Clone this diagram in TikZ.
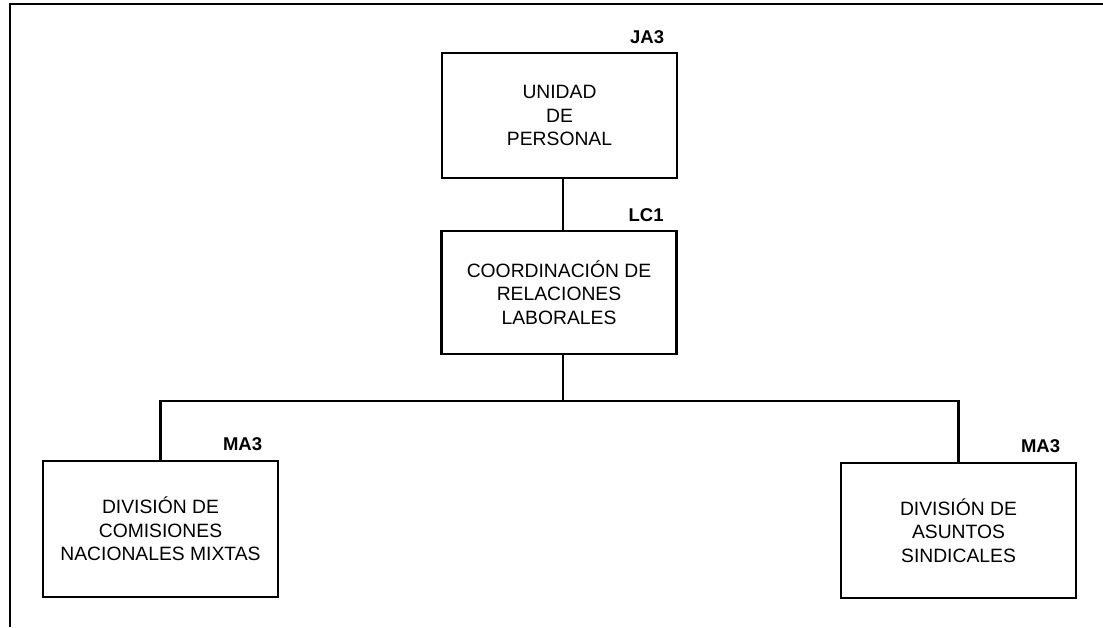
\documentclass[tikz,border=0pt]{standalone}
\usepackage{fontspec}
\setmainfont{Liberation Sans}
\usetikzlibrary{calc}
\tikzset{
  unitbox/.style={draw=black, line width=2.6pt, fill=white, inner sep=0pt,
    minimum width=235pt, align=center,
    font=\fontsize{19.3}{23.5}\selectfont},
  lab/.style={anchor=base east, inner sep=0pt,
    font=\fontsize{18.5}{22}\selectfont\bfseries},
  conn/.style={draw=black, line width=2.6pt},
  frame/.style={draw=black, line width=2.6pt}
}
\begin{document}
\begin{tikzpicture}[x=1pt,y=-1pt]
\useasboundingbox (0,0) rectangle (1103,627);
\draw[frame] (1103,4) -- (10,4) -- (10,627);
\node[unitbox, minimum height=125pt] (u) at (559.5,115.5) {UNIDAD\\DE\\PERSONAL};
\node[unitbox, minimum height=123pt] (c) at (559,292.5) {COORDINACIÓN DE\\RELACIONES\\LABORALES};
\node[unitbox, minimum height=136pt] (l) at (160.5,529) {DIVISIÓN DE\\COMISIONES\\NACIONALES MIXTAS};
\node[unitbox, minimum height=135pt] (r) at (958.5,530.5) {DIVISIÓN DE\\ASUNTOS\\SINDICALES};
\node[lab] (lu) at ($(u.north east)+(-14,-8)$) {JA3};
\node[lab] (lc) at ($(c.north east)+(-14,-8)$) {LC1};
\node[lab] (ll) at ($(l.north east)+(-17,-9)$) {MA3};
\node[lab] (lr) at ($(r.north east)+(-17,-9)$) {MA3};
\coordinate (bus) at (563,401);
\draw[conn] (u.south -| bus) -- (c.north -| bus);
\draw[conn] (c.south -| bus) -- (bus);
\draw[conn] (l.north) -- (l.north |- bus) -- (r.north |- bus) -- (r.north);
\end{tikzpicture}
\end{document}
